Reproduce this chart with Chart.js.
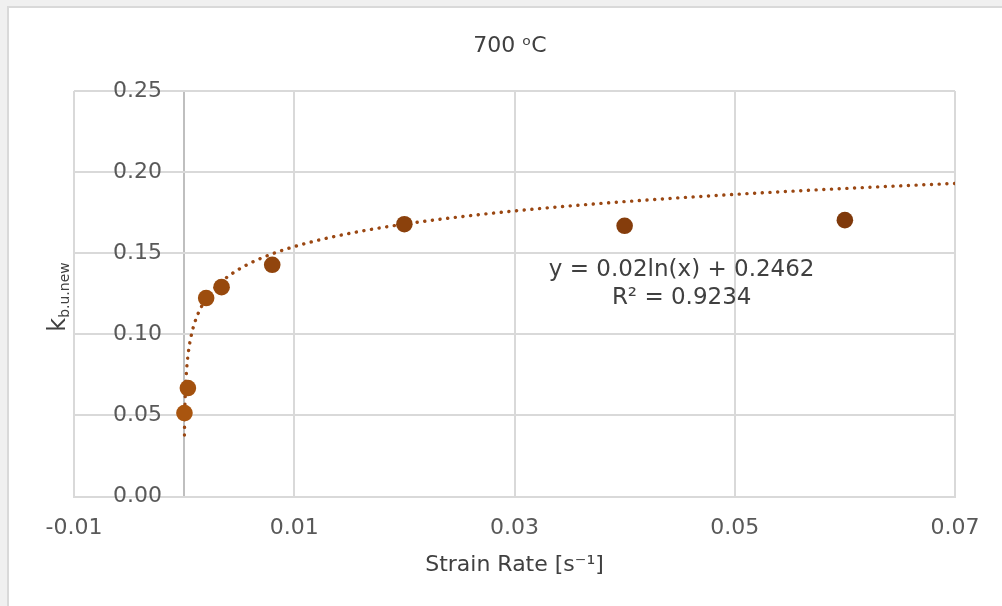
<!DOCTYPE html>
<html><head><meta charset="utf-8">
<script src="https://cdn.jsdelivr.net/npm/chart.js@4.4.1/dist/chart.umd.min.js"></script>
<style>html,body{margin:0;padding:0;background:#f0f0f0;overflow:hidden}#wrap{position:relative;width:1002px;height:606px}</style>
</head><body><div id="wrap"><canvas id="c"></canvas></div>
<script>
// ---- data ----
const chartTitle = '700 ᵒC';
const xAxisTitle = 'Strain Rate [s⁻¹]';
const yAxisTitleMain = 'k';
const yAxisTitleSub = 'b.u.new';
const strainRate = [0.00003, 0.00034, 0.002, 0.0034, 0.008, 0.02, 0.04, 0.06];
const kbuNew     = [0.0515, 0.0669, 0.1224, 0.1291, 0.1429, 0.1679, 0.1669, 0.1704];
const xTickLabels = ['-0.01', '0.01', '0.03', '0.05', '0.07'];
const yTickLabels = ['0.00', '0.05', '0.10', '0.15', '0.20', '0.25'];
const trendA = 0.02, trendB = 0.2462;
const trendEquation = 'y = 0.02ln(x) + 0.2462';
const trendR2 = 'R² = 0.9234';
const trendStart = 0.00003, trendEnd = 0.07;

// ---- build ----
const points = strainRate.map((x, i) => ({x, y: kbuNew[i]}));
const trendPts = [];
const N = 400;
for (let i = 0; i <= N; i++) {
  const x = trendStart * Math.pow(trendEnd / trendStart, i / N);
  trendPts.push({x, y: trendA * Math.log(x) + trendB});
}
function lerpCol(a, b, t) {
  const pa = [1,3,5].map(k => parseInt(a.substr(k,2),16));
  const pb = [1,3,5].map(k => parseInt(b.substr(k,2),16));
  const c = pa.map((v, k) => Math.round(v + (pb[k]-v)*t));
  return `rgb(${c[0]},${c[1]},${c[2]})`;
}
const FONT = "'DejaVu Sans', Verdana, sans-serif";
Chart.defaults.font.family = FONT;

const decor = {
  id: 'decor',
  beforeDraw(chart) {
    const ctx = chart.ctx;
    ctx.save();
    ctx.fillStyle = '#f0f0f0'; ctx.fillRect(0, 0, chart.width, chart.height);
    ctx.fillStyle = '#d9d9d9'; ctx.fillRect(7, 6, chart.width, chart.height);
    ctx.fillStyle = '#ffffff'; ctx.fillRect(9, 8, chart.width, chart.height);
    ctx.restore();
  },
  afterDraw(chart) {
    const ctx = chart.ctx, xs = chart.scales.x, ys = chart.scales.y;
    const ca = chart.chartArea;
    ctx.save();
    // title
    ctx.fillStyle = '#404040';
    ctx.font = '22px ' + FONT;
    ctx.textAlign = 'center'; ctx.textBaseline = 'alphabetic';
    ctx.fillText(chartTitle, 510, 52);
    // x title
    ctx.fillText(xAxisTitle, (ca.left + ca.right) / 2, 571);
    // y title
    ctx.translate(65, 297);
    ctx.rotate(-Math.PI / 2);
    ctx.font = '24px ' + FONT;
    const wk = ctx.measureText(yAxisTitleMain).width;
    ctx.font = '14px ' + FONT;
    const ws = ctx.measureText(yAxisTitleSub).width;
    const x0 = -(wk + ws) / 2;
    ctx.textAlign = 'left';
    ctx.font = '24px ' + FONT;
    ctx.fillText(yAxisTitleMain, x0, 0);
    ctx.font = '14px ' + FONT;
    ctx.fillText(yAxisTitleSub, x0 + wk, 4);
    ctx.setTransform(1, 0, 0, 1, 0, 0);
    // equation
    ctx.fillStyle = '#404040';
    ctx.font = '23px ' + FONT;
    ctx.textAlign = 'center';
    const ex = xs.getPixelForValue(0.04518);
    const ey = ys.getPixelForValue(0.1361);
    ctx.fillText(trendEquation, ex, ey);
    ctx.fillText(trendR2, ex, ey + 28);
    ctx.restore();
  }
};

new Chart(document.getElementById('c'), {
  type: 'scatter',
  data: {
    datasets: [
      {
        label: 'k',
        data: points,
        pointRadius: 8.3,
        pointHoverRadius: 8.3,
        pointBorderWidth: 0,
        backgroundColor: (c) => lerpCol('#a9550f', '#7f390b', (c.dataIndex || 0) / (strainRate.length - 1)),
        borderColor: 'rgba(0,0,0,0)'
      },
      {
        label: 'trend',
        data: trendPts,
        showLine: true,
        pointRadius: 0,
        borderColor: '#9a4712',
        borderWidth: 3.4,
        borderDash: [0.1, 7.6],
        borderCapStyle: 'round',
        tension: 0
      }
    ]
  },
  options: {
    responsive: true,
    maintainAspectRatio: false,
    animation: false,
    events: [],
    layout: {padding: {left: 74, top: 91, right: 47, bottom: 47}},
    plugins: {legend: {display: false}, tooltip: {enabled: false}},
    scales: {
      x: {
        type: 'linear', position: 'bottom',
        min: -0.01, max: 0.07,
        ticks: {
          stepSize: 0.01, autoSkip: false, maxRotation: 0,
          padding: 18, color: '#595959', font: {size: 22},
          callback: (v) => { const s = (Math.round(v * 100) / 100).toFixed(2); return xTickLabels.includes(s) ? s : ''; }
        },
        grid: {
          drawTicks: false, lineWidth: 2,
          color: (c) => { const k = Math.round(c.tick.value * 100); if (k === 0) return '#bfbfbf'; return (Math.abs(k) % 2 === 1) ? '#d9d9d9' : 'rgba(0,0,0,0)'; }
        },
        border: {display: true, color: '#d9d9d9', width: 2}
      },
      y: {
        type: 'linear', position: 'left',
        min: 0, max: 0.25,
        afterFit: (s) => { s.width = 0; },
        ticks: {
          stepSize: 0.05, mirror: true, padding: 39, color: '#595959', font: {size: 22},
          callback: (v) => { const s = v.toFixed(2); return yTickLabels.includes(s) ? s : ''; }
        },
        grid: {drawTicks: false, lineWidth: 2, color: '#d9d9d9'},
        border: {display: false}
      }
    }
  },
  plugins: [decor]
});
</script>
</body></html>
